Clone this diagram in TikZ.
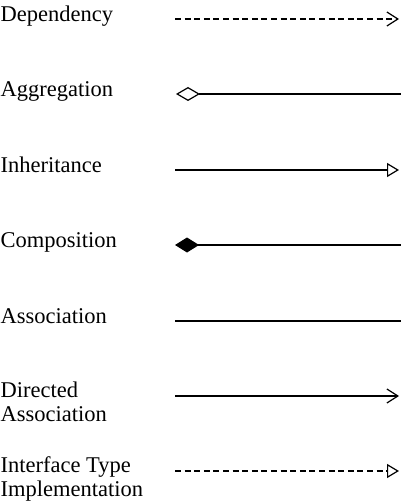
\documentclass[tikz,border=0pt]{standalone}
\usepackage{fontspec}
\setmainfont{Liberation Serif}
\usetikzlibrary{arrows.meta}

\begin{document}
\begin{tikzpicture}[x=1pt, y=-1pt, line width=1.2pt,
  relname/.style={anchor=base west, inner sep=0pt, align=left,
    font=\fontsize{22.5}{24.5}\selectfont},
  rel/.style={line width=1.2pt},
  dashrel/.style={rel, dash pattern=on 6pt off 3.6pt},
  >= {Straight Barb[length=11pt,width=14pt,line width=1.2pt]}]

\useasboundingbox (0,0) rectangle (401,502);

\node[relname] (dep) at (0,21.5) {Dependency};
\coordinate (depA) at (175,19);
\coordinate (depB) at (399,19);
\draw[dashrel,->] (depA) -- (depB);

\node[relname] (agg) at (0,96.5) {Aggregation};
\coordinate (aggA) at (176,94);
\coordinate (aggB) at (401,94);
\draw[rel,{Diamond[open,length=24pt,width=14pt,line width=1.2pt]}-] (aggA) -- (aggB);

\node[relname] (inh) at (0,172.5) {Inheritance};
\coordinate (inhA) at (175,170);
\coordinate (inhB) at (399,170);
\draw[rel,-{Triangle[open,length=12pt,width=14pt,line width=1.2pt]}] (inhA) -- (inhB);

\node[relname] (comp) at (0,247.5) {Composition};
\coordinate (compA) at (175,245);
\coordinate (compB) at (401,245);
\draw[rel,{Diamond[length=24pt,width=15pt]}-] (compA) -- (compB);

\node[relname] (assoc) at (0,323.5) {Association};
\coordinate (assocA) at (175,321);
\coordinate (assocB) at (401,321);
\draw[rel] (assocA) -- (assocB);

% two lines: base is the last line
\node[relname] (dir) at (0,421.5) {Directed\\Association};
\coordinate (dirA) at (175,396);
\coordinate (dirB) at (399,396);
\draw[rel,->] (dirA) -- (dirB);

\node[relname] (impl) at (0,496.5) {Interface Type\\Implementation};
\coordinate (implA) at (175,471);
\coordinate (implB) at (399,471);
\draw[dashrel,-{Triangle[open,length=12pt,width=14pt,line width=1.2pt]}] (implA) -- (implB);

\end{tikzpicture}
\end{document}
